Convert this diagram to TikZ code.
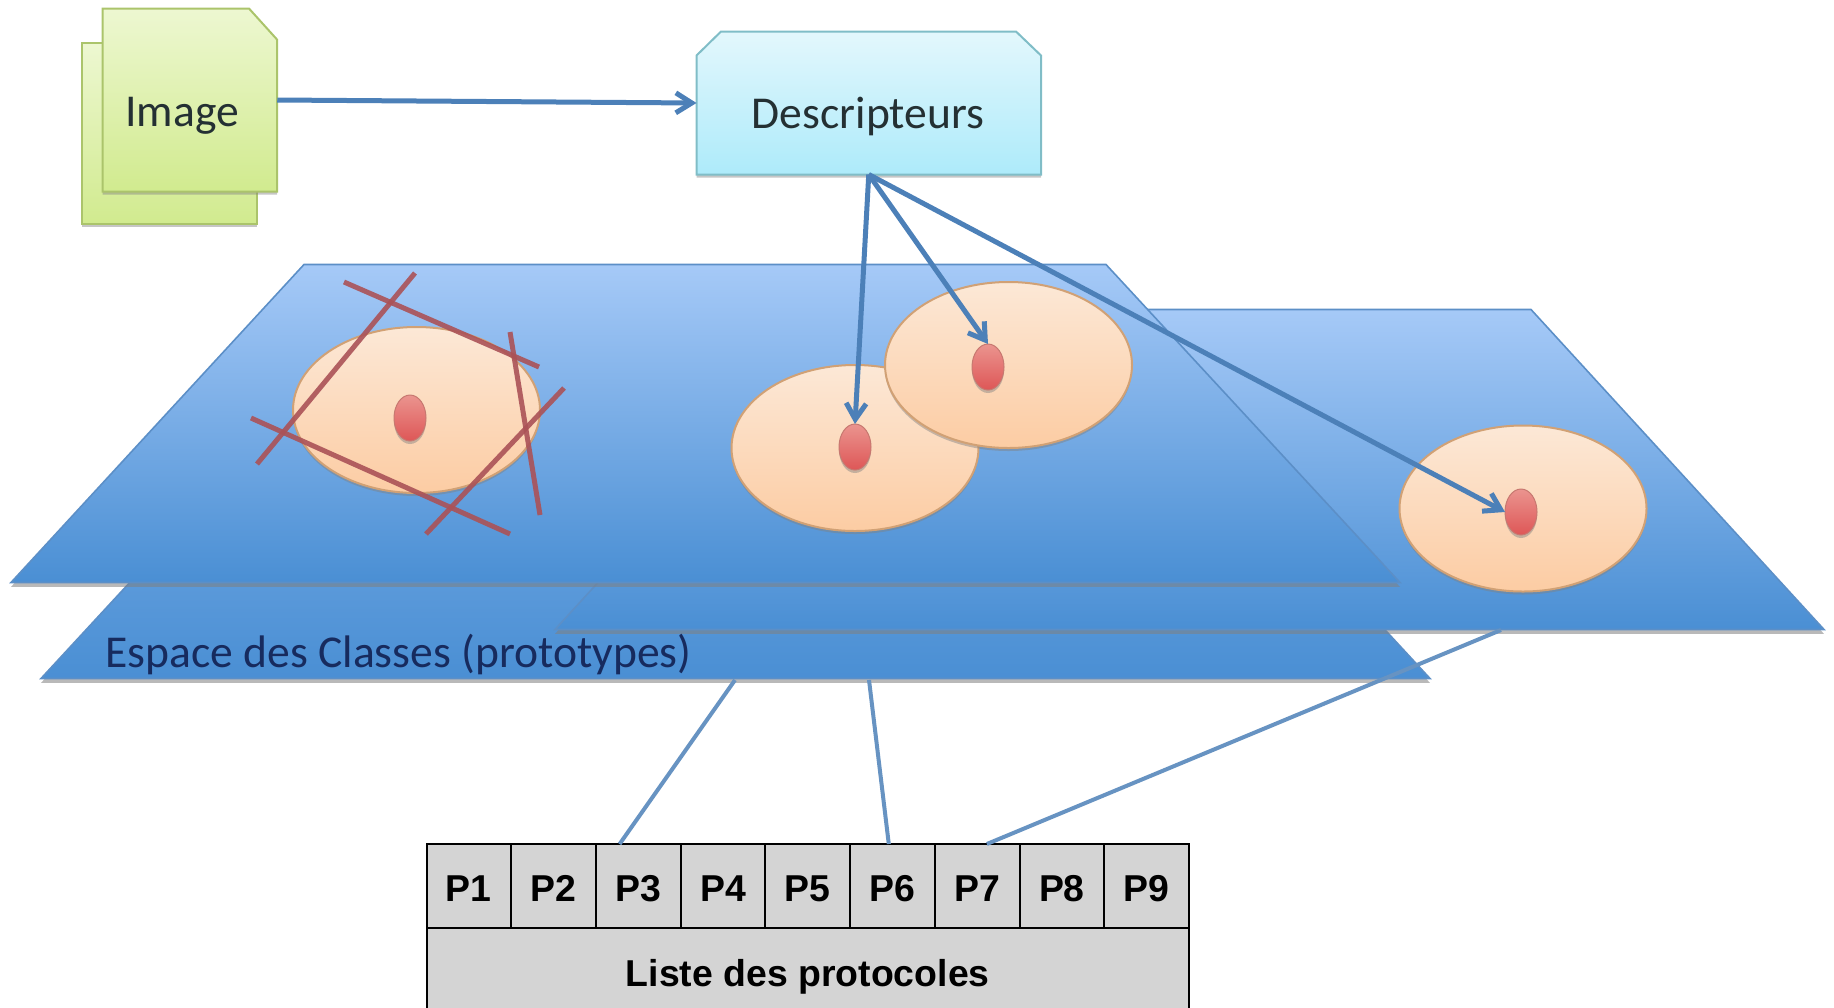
\documentclass[tikz,border=0pt]{standalone}
\usepackage{fontspec}
\usepackage{xcolor}
\usepackage{tikz}
\usetikzlibrary{positioning}
\usetikzlibrary{shapes.geometric}
\usetikzlibrary{shadows}
\usetikzlibrary{arrows.meta}
\setmainfont{Carlito}
\newfontfamily\tablefont{Liberation Sans}
\definecolor{planeedge}{rgb}{0.36,0.56,0.78}
\definecolor{planetop}{rgb}{0.65,0.79,0.97}
\definecolor{planebot}{rgb}{0.29,0.56,0.83}
\definecolor{linkblue}{rgb}{0.30,0.50,0.72}
\definecolor{cutred}{rgb}{0.67,0.32,0.34}
\definecolor{cellgray}{rgb}{0.83,0.83,0.83}
\definecolor{sheetedge}{rgb}{0.67,0.77,0.42}
\definecolor{sheettop}{rgb}{0.93,0.97,0.82}
\definecolor{sheetbot}{rgb}{0.82,0.92,0.56}
\definecolor{descedge}{rgb}{0.50,0.74,0.78}
\definecolor{desctop}{rgb}{0.89,0.97,0.99}
\definecolor{descbot}{rgb}{0.68,0.92,0.98}
\definecolor{zoneedge}{rgb}{0.82,0.63,0.46}
\definecolor{zonetop}{rgb}{0.99,0.91,0.84}
\definecolor{zonebot}{rgb}{0.99,0.80,0.64}
\definecolor{protoedge}{rgb}{0.78,0.47,0.44}
\definecolor{prototop}{rgb}{0.92,0.58,0.56}
\definecolor{protobot}{rgb}{0.87,0.34,0.34}
\definecolor{darktext}{rgb}{0.14,0.19,0.20}
\definecolor{navytext}{rgb}{0.09,0.17,0.37}

\begin{document}
\begin{tikzpicture}[
    x = 0.5pt, y = -0.5pt,
    softshadow/.style = {drop shadow = {shadow xshift = 0pt, shadow yshift = -1.5pt, opacity = 0.45}},
    plane/.style = {draw = planeedge, line width = 0.8pt, top color = planetop, bottom color = planebot, drop shadow = {shadow xshift = 0pt, shadow yshift = -2.2pt, opacity = 0.55}},
    lowplane/.style = {plane, top color = planetop!60!planebot},
    sheet/.style = {draw = sheetedge, line width = 1pt, top color = sheettop, bottom color = sheetbot, softshadow},
    descbox/.style = {draw = descedge, line width = 1pt, top color = desctop, bottom color = descbot, softshadow},
    anchorbox/.style = {inner sep = 0pt, outer sep = 0pt},
    zone/.style = {ellipse, minimum width = 123.5pt, minimum height = 83pt, inner sep = 0pt, draw = zoneedge, line width = 1pt, top color = zonetop, bottom color = zonebot, softshadow},
    proto/.style = {ellipse, minimum width = 16pt, minimum height = 23pt, inner sep = 0pt, outer sep = 0pt, draw = protoedge, line width = 0.5pt, top color = prototop, bottom color = protobot, softshadow},
    cutline/.style = {draw = cutred, line width = 2.5pt, opacity = 0.9},
    link/.style = {draw = linkblue, line width = 2.5pt, -{Straight Barb[length = 8pt, width = 10pt]}},
    plainlink/.style = {draw = linkblue!85!white, line width = 2pt},
    label/.style = {font = \fontsize{22.8pt}{27pt}\selectfont, inner sep = 0pt, text = darktext},
    cell/.style = {draw, line width = 1pt, fill = cellgray, minimum width = 42.36pt, minimum height = 42pt, inner sep = 0pt, outer sep = 0pt, font = \tablefont\bfseries\fontsize{18.7pt}{22pt}\selectfont, text height = 15.6pt, text depth = 0pt}
    ]
    \useasboundingbox (0,0) rectangle (1834,1007);
    % image and descriptors
    \node[sheet, minimum width = 87.5pt, minimum height = 90.25pt, inner sep = 0pt, outer sep = 0pt] (imageback) at (169.5,133.25) {};
    \draw[sheet] (102.5,191.5) -- (102.5,8.5) -- (249,8.5) -- (277,39.5) -- (277,191.5) -- cycle;
    \node[anchorbox, minimum width = 87.25pt, minimum height = 91.5pt] (imagefront) at (190,100) {};
    \node[label] (imagetext) at (182,116) {Image};
    \draw[descbox] (696.5,174.5) -- (696.5,55.5) -- (721,31.5) -- (1016,31.5) -- (1041,55.5) -- (1041,174.5) -- cycle;
    \node[anchorbox, minimum width = 172.25pt, minimum height = 71.5pt] (desc) at (868.75,103) {};
    \node[label] (desctext) at (868,116.5) {Descripteurs};
    \draw[link] (imagefront.east) -- (desc.west);
    % the three planes
    \draw[lowplane] (41,678.5) -- (335,360.5) -- (1136,360.5) -- (1430,678.5) -- cycle;
    \draw[plane] (555,629.5) -- (848,309.5) -- (1531,309.5) -- (1824,629.5) -- cycle;
    \draw[plane] (11,582.5) -- (304,264.5) -- (1106,264.5) -- (1400,582.5) -- cycle;
    \node[label, anchor = west, text = navytext] (spacetext) at (105,654.5) {Espace des Classes (prototypes)};
    % classes
    \node[zone] (zonea) at (416.5,410) {};
    \node[zone] (zoneb) at (855,448) {};
    \node[zone] (zonec) at (1008.5,365) {};
    \node[zone] (zoned) at (1523,508.5) {};
    \node[proto] (protoa) at (410,418) {};
    \node[proto] (protob) at (855,447) {};
    \node[proto] (protoc) at (988,367) {};
    \node[proto] (protod) at (1521,512) {};
    \draw[cutline] (344,282) -- (539,367);
    \draw[cutline] (415,273) -- (257,464);
    \draw[cutline] (251,418) -- (510,534);
    \draw[cutline] (564,388) -- (426,534);
    \draw[cutline] (510,332) -- (540,515);
    \draw[link] (desc.south) -- (protob.north);
    \draw[link] (desc.south) -- (protoc.north);
    \draw[link] (desc.south) -- (protod.west);
    % list of protocols
    \foreach \i in {1,...,9} {
        \node[cell] (P\i) at ({426.5+84.72*(\i-0.5)},886) {P\i};
    }
    \node[cell, minimum width = 381.25pt, minimum height = 45pt, text height = 13.2pt] (liste) at (807.75,973) {Liste des protocoles};
    \coordinate (lowa) at (735,680);
    \coordinate (lowb) at (869,680);
    \coordinate (rightb) at (1501,630);
    \draw[plainlink] (lowa) -- (P3.114);
    \draw[plainlink] (lowb) -- (P6.95);
    \draw[plainlink] (rightb) -- (P7.77);
\end{tikzpicture}
\end{document}
